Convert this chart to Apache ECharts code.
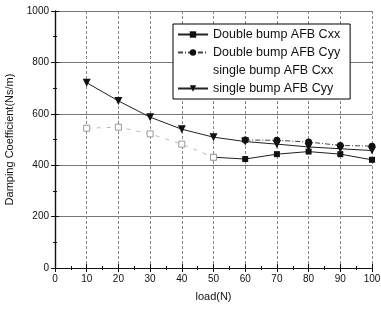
<!DOCTYPE html>
<html>
<head>
<meta charset="utf-8">
<script src="https://cdn.jsdelivr.net/npm/echarts@6/dist/echarts.min.js"></script>
<style>
  html, body { margin: 0; padding: 0; background: #fff; }
  #main { width: 381px; height: 309px; }
</style>
</head>
<body>
<div id="main"></div>
<script>
var loads = [10, 20, 30, 40, 50, 60, 70, 80, 90, 100];
var doubleCxx = [null, null, null, null, 431, 424, 443, 453, 443, 421];
var doubleCyy = [null, null, null, null, null, 498, 497, 490, 477, 474];
var singleCxx = [544, 548, 522, 482, 431, null, null, null, null, null];
var singleCyy = [721, 650, 587, 540, 509, 492, 482, 471, 464, 457];

function pairs(vals) {
    var res = [];
    for (var i = 0; i < loads.length; i++) {
        if (vals[i] != null) res.push([loads[i], vals[i]]);
    }
    return res;
}

var font = 'Liberation Sans, Arial, sans-serif';
var chart = echarts.init(document.getElementById('main'));

var option = {
    animation: false,
    backgroundColor: '#fff',
    grid: { left: 55, right: 9, top: 11, bottom: 41, outerBoundsMode: 'none' },
    legend: {
        orient: 'vertical',
        left: 173, top: 24,
        padding: [4, 10, 4, 4],
        itemGap: 5,
        itemWidth: 30, itemHeight: 8,
        backgroundColor: '#fff',
        borderColor: '#000', borderWidth: 1,
        textStyle: { fontFamily: font, fontSize: 12.5, color: '#111' },
        data: [
            'Double bump AFB Cxx',
            'Double bump AFB Cyy',
            { name: 'single bump AFB Cxx', icon: 'none' },
            'single bump AFB Cyy'
        ]
    },
    xAxis: [{
        type: 'value', min: 0, max: 100, interval: 10,
        name: 'load(N)', nameLocation: 'middle', nameGap: 23,
        nameTextStyle: { fontFamily: font, fontSize: 11, color: '#111' },
        axisLine: { lineStyle: { color: '#111', width: 1.2 } },
        axisTick: { inside: true, length: 4, lineStyle: { color: '#111' } },
        minorTick: { show: true, splitNumber: 2, length: 2, lineStyle: { color: '#111' } },
        axisLabel: { fontFamily: font, fontSize: 10, color: '#111', margin: 6 },
        splitLine: { show: true, lineStyle: { color: '#888', type: [3, 2], width: 1 } }
    }, {
        type: 'value', min: 0, max: 100, interval: 10, position: 'top',
        axisLine: { show: true, lineStyle: { color: '#111', width: 1.2 } },
        axisTick: { inside: true, length: 4, lineStyle: { color: '#111' } },
        minorTick: { show: true, splitNumber: 2, length: 2, lineStyle: { color: '#111' } },
        axisLabel: { show: false },
        splitLine: { show: false }
    }],
    yAxis: [{
        type: 'value', min: 0, max: 1000, interval: 200,
        name: 'Damping Coefficient(Ns/m)', nameLocation: 'middle', nameGap: 38,
        nameTextStyle: { fontFamily: font, fontSize: 11, color: '#111' },
        axisLine: { show: true, lineStyle: { color: '#111', width: 1.2 } },
        axisTick: { show: true, inside: true, length: 4, lineStyle: { color: '#111' } },
        minorTick: { show: true, splitNumber: 2, length: 2, lineStyle: { color: '#111' } },
        axisLabel: { fontFamily: font, fontSize: 10, color: '#111', margin: 6,
            formatter: function (v) { return String(v); } },
        splitLine: { show: true, lineStyle: { color: '#777', width: 1 } }
    }, {
        type: 'value', min: 0, max: 1000, interval: 200, position: 'right',
        axisLine: { show: true, lineStyle: { color: '#111', width: 1.2 } },
        axisTick: { show: true, inside: true, length: 4, lineStyle: { color: '#111' } },
        minorTick: { show: true, splitNumber: 2, length: 2, lineStyle: { color: '#111' } },
        axisLabel: { show: false },
        splitLine: { show: false }
    }],
    series: [
        {
            name: 'Double bump AFB Cxx', type: 'line',
            data: pairs(doubleCxx),
            symbol: 'rect', symbolSize: 6,
            itemStyle: { color: '#111' },
            lineStyle: { color: '#222', width: 1 }
        },
        {
            name: 'Double bump AFB Cyy', type: 'line',
            data: pairs(doubleCyy),
            symbol: 'circle', symbolSize: 7,
            itemStyle: { color: '#111' },
            lineStyle: { color: '#444', width: 1, type: [5, 2, 1, 2] }
        },
        {
            name: 'single bump AFB Cxx', type: 'line',
            data: pairs(singleCxx),
            symbol: 'rect', symbolSize: 6,
            itemStyle: { color: '#fff', borderColor: '#999', borderWidth: 1 },
            lineStyle: { color: '#bbb', width: 1, type: [4, 6] },
            z: 3
        },
        {
            name: 'single bump AFB Cyy', type: 'line',
            data: pairs(singleCyy),
            symbol: 'triangle', symbolRotate: 180, symbolSize: 8,
            itemStyle: { color: '#111' },
            lineStyle: { color: '#222', width: 1 }
        }
    ]
};

chart.setOption(option);
</script>
</body>
</html>
